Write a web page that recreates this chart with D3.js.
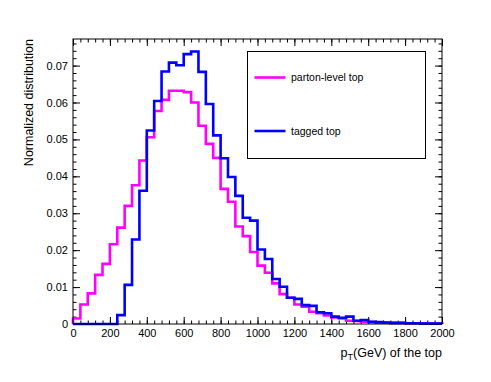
<!DOCTYPE html>
<html lang="en">
<head>
<meta charset="UTF-8">
<title>Top pT distribution</title>
<style>
body { margin: 0; background: #fff; }
svg { display: block; }
.axis text { font: 11px "Liberation Sans", Arial, sans-serif; fill: #000; }
.axis line { stroke: #000; stroke-width: 1px; }
.axis path { display: none; }
.hist { fill: none; stroke-width: 2.6px; stroke-linejoin: miter; }
</style>
</head>
<body>
<div id="chart"></div>
<script src="https://cdnjs.cloudflare.com/ajax/libs/d3/7.8.5/d3.min.js"></script>
<script>

// 50 bins of 40 GeV from 0 to 2000
let binEdges = d3.range(0, 2001, 40);

let partonLevel = [
  0.0015, 0.0053, 0.0083, 0.0133, 0.0163, 0.0216, 0.0261, 0.0320, 0.0376, 0.0443,
  0.0506, 0.0577, 0.0607, 0.0632, 0.0632, 0.0628, 0.0600, 0.0537, 0.0488, 0.0450,
  0.0366, 0.0331, 0.0264, 0.0238, 0.0195, 0.0158, 0.0139, 0.0110, 0.0081, 0.0071,
  0.0053, 0.0047, 0.0033, 0.0029, 0.0023, 0.0018, 0.0015, 0.0009, 0.0008, 0.0006,
  0.0005, 0.0004, 0.0004, 0.0003, 0.0003, 0.0002, 0.0002, 0.0002, 0.0001, 0.0001
];

let taggedTop = [
  0, 0, 0, 0, 0, 0, 0.0024, 0.0106, 0.0229, 0.0361,
  0.0524, 0.0604, 0.0684, 0.0708, 0.0701, 0.0731, 0.0738, 0.0683, 0.0596, 0.0511,
  0.0449, 0.0398, 0.0347, 0.0288, 0.0280, 0.0202, 0.0176, 0.0122, 0.0101, 0.0071,
  0.0068, 0.0051, 0.0049, 0.0032, 0.0029, 0.0020, 0.0017, 0.0020, 0.0009, 0.0011,
  0.0006, 0.0005, 0.0004, 0.0003, 0.0003, 0.0002, 0.0002, 0.0001, 0.0001, 0.0001
];

let seriesNames = ["parton-level top", "tagged top"];
let seriesColors = ["#ff00ff", "#0000ff"];
let xTicks = [0, 200, 400, 600, 800, 1000, 1200, 1400, 1600, 1800, 2000];
let yTicks = [0, 0.01, 0.02, 0.03, 0.04, 0.05, 0.06, 0.07];

let W = 491, H = 382;
let margin = { top: 39, right: 49, bottom: 58, left: 73 };
let innerW = W - margin.left - margin.right;
let innerH = H - margin.top - margin.bottom;

let x = d3.scaleLinear().domain([0, 2000]).range([0, innerW]);
let y = d3.scaleLinear().domain([0, 0.0772]).range([innerH, 0]);

let svg = d3.select('#chart').append('svg')
  .attr('width', W)
  .attr('height', H);

let g = svg.append('g')
  .attr('transform', 'translate(' + margin.left + ',' + margin.top + ')');

let xMinor = d3.range(0, 2001, 40);
let yMinor = d3.range(0, 0.0772, 0.002);

// minor ticks on all four sides
g.append('g').attr('class', 'axis')
  .attr('transform', 'translate(0,' + innerH + ')')
  .call(d3.axisBottom(x).tickValues(xMinor).tickSize(-3.5).tickFormat(''));
g.append('g').attr('class', 'axis')
  .call(d3.axisTop(x).tickValues(xMinor).tickSize(-3.5).tickFormat(''));
g.append('g').attr('class', 'axis')
  .call(d3.axisLeft(y).tickValues(yMinor).tickSize(-3.5).tickFormat(''));
g.append('g').attr('class', 'axis')
  .attr('transform', 'translate(' + innerW + ',0)')
  .call(d3.axisRight(y).tickValues(yMinor).tickSize(-3.5).tickFormat(''));

// major ticks
g.append('g').attr('class', 'axis')
  .attr('transform', 'translate(0,' + innerH + ')')
  .call(d3.axisBottom(x).tickValues(xTicks).tickSize(-7).tickPadding(5).tickFormat(d3.format('d')));
g.append('g').attr('class', 'axis')
  .call(d3.axisTop(x).tickValues(xTicks).tickSize(-7).tickFormat(''));
g.append('g').attr('class', 'axis')
  .call(d3.axisLeft(y).tickValues(yTicks).tickSize(-7).tickPadding(5)
    .tickFormat(d => d === 0 ? '0' : d3.format('.2f')(d)));
g.append('g').attr('class', 'axis')
  .attr('transform', 'translate(' + innerW + ',0)')
  .call(d3.axisRight(y).tickValues(yTicks).tickSize(-7).tickFormat(''));

// histograms as steps
function stepPoints(vals) {
  let pts = [[binEdges[0], 0]];
  vals.forEach((v, i) => {
    pts.push([binEdges[i], v]);
    pts.push([binEdges[i + 1], v]);
  });
  pts.push([binEdges[binEdges.length - 1], 0]);
  return pts;
}

let line = d3.line()
  .x(d => x(d[0]))
  .y(d => y(d[1]));

[partonLevel, taggedTop].forEach((vals, i) => {
  g.append('path')
    .attr('class', 'hist')
    .attr('stroke', seriesColors[i])
    .attr('d', line(stepPoints(vals)));
});

// frame
g.append('rect')
  .attr('width', innerW)
  .attr('height', innerH)
  .attr('fill', 'none')
  .attr('stroke', '#000')
  .attr('stroke-width', 1);

// axis titles
svg.append('text')
  .attr('transform', 'translate(33,' + margin.top + ') rotate(-90)')
  .attr('text-anchor', 'end')
  .style('font', '12.5px "Liberation Sans", Arial, sans-serif')
  .text('Normalized distribution');

let xt = svg.append('text')
  .attr('x', margin.left + innerW)
  .attr('y', 357)
  .attr('text-anchor', 'end')
  .style('font', '12.5px "Liberation Sans", Arial, sans-serif');
xt.append('tspan').text('p');
xt.append('tspan').attr('dy', 3).style('font-size', '9px').text('T');
xt.append('tspan').attr('dy', -3).text('(GeV) of the top');

// legend
let lg = svg.append('g').attr('transform', 'translate(247.5,51.5)');
lg.append('rect')
  .attr('width', 178)
  .attr('height', 107)
  .attr('fill', '#fff')
  .attr('stroke', '#000')
  .attr('stroke-width', 1);
seriesNames.forEach((name, i) => {
  let yy = 26 + i * 53.5;
  lg.append('line')
    .attr('x1', 7).attr('x2', 38)
    .attr('y1', yy).attr('y2', yy)
    .attr('stroke', seriesColors[i])
    .attr('stroke-width', 2.6);
  lg.append('text')
    .attr('x', 43.5)
    .attr('y', yy)
    .attr('dy', '0.35em')
    .style('font', '10.5px "Liberation Sans", Arial, sans-serif')
    .text(name);
});
</script>
</body>
</html>
